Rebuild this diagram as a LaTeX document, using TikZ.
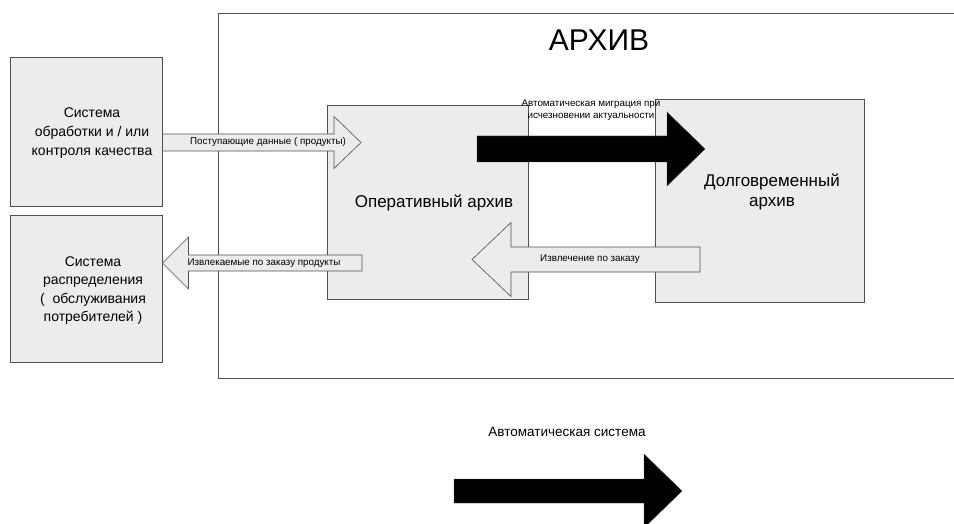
\documentclass[tikz,border=0pt]{standalone}
\usepackage{fontspec}
\setmainfont{Liberation Sans}
\usetikzlibrary{calc}

\definecolor{boxgray}{HTML}{ECECEC}
\definecolor{linegray}{HTML}{505050}

\tikzset{
  box/.style={draw=linegray, fill=boxgray, line width=0.9pt, inner sep=0pt},
  boxtext/.style={align=center, inner sep=0pt, font=\fontsize{14}{19}\selectfont},
  archtext/.style={align=center, inner sep=0pt, font=\fontsize{17}{20}\selectfont},
  smalltext/.style={align=center, inner sep=0pt, font=\fontsize{9.8}{12}\selectfont},
  hollow/.style={draw=linegray, fill=boxgray, line width=0.6pt, line join=miter},
  solid/.style={draw=black!70, fill=black, line width=0.4pt, line join=miter}
}

% horizontal block arrow: style, tail, tip, shaft half, head half, head length
\newcommand{\blockarrow}[6]{%
  \draw[#1] ($(#2)+(0,#4)$) -- ($(#3)+({-(#6)},#4)$) -- ($(#3)+({-(#6)},#5)$) -- (#3)
    -- ($(#3)+({-(#6)},{-(#5)})$) -- ($(#3)+({-(#6)},{-(#4)})$) -- ($(#2)+(0,{-(#4)})$) -- cycle;}

\begin{document}
\begin{tikzpicture}[x=1pt, y=-1pt]
\useasboundingbox (0,0) rectangle (954,524);

% archive frame
\draw[draw=linegray, line width=0.9pt] (218,13) rectangle (1000,378);
\node[inner sep=0pt, font=\fontsize{30}{32}\selectfont] (title) at (599,40) {АРХИВ};

% outside systems
\node[box, minimum width=152, minimum height=149] (qc) at (86,131.5) {};
\node[boxtext] (qctext) at (92,133) {Система\\обработки и / или\\контроля качества};
\node[box, minimum width=152, minimum height=147] (dist) at (86,288.5) {};
\node[boxtext, font=\fontsize{14}{18.3}\selectfont] (disttext) at (93,290.5) {Система\\распределения\\(\ \ обслуживания\\потребителей )};

% archive parts
\node[box, minimum width=201, minimum height=194] (oper) at (427.5,202) {};
\node[archtext] (opertext) at (434,203) {Оперативный архив};
\node[box, minimum width=209, minimum height=203] (long) at (759.5,200.5) {};
\node[archtext] (longtext) at (772,192) {Долговременный\\архив};

% arrows
\coordinate (inTail) at (qc.east |- 0,142.5);
\coordinate (inTip) at (361,142.5);
\blockarrow{hollow}{inTail}{inTip}{8.5}{26}{27}
\node[smalltext] (inlabel) at (268,141.5) {Поступающие данные ( продукты)};

\coordinate (outTail) at (362,263);
\coordinate (outTip) at (dist.east |- 0,263);
\blockarrow{hollow}{outTail}{outTip}{8}{26}{-26}
\node[smalltext] (outlabel) at (264,263) {Извлекаемые по заказу продукты};

\coordinate (getTail) at (700,259.5);
\coordinate (getTip) at (472,259.5);
\blockarrow{hollow}{getTail}{getTip}{12.5}{37}{-39}
\node[smalltext] (getlabel) at (590,259.5) {Извлечение по заказу};

\coordinate (migTail) at (477,149);
\coordinate (migTip) at (705,149);
\blockarrow{solid}{migTail}{migTip}{13}{37}{38}
\node[smalltext] (miglabel) at (591,110) {Автоматическая миграция при\\исчезновении актуальности};

% legend
\coordinate (autoTail) at (454,491);
\coordinate (autoTip) at (682,491);
\blockarrow{solid}{autoTail}{autoTip}{12}{37}{38}
\node[inner sep=0pt, font=\fontsize{13.5}{16}\selectfont] (autolabel) at (567,432) {Автоматическая система};
\end{tikzpicture}
\end{document}
